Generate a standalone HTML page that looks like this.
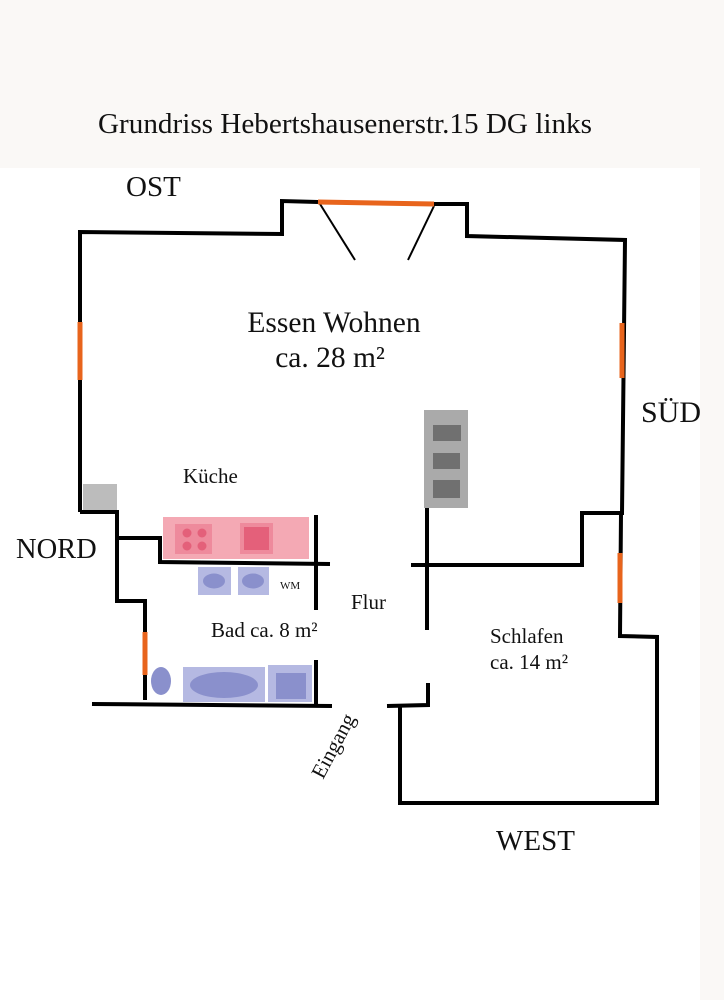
<!DOCTYPE html>
<html><head><meta charset="utf-8"><style>
html,body{margin:0;padding:0;background:#faf8f6;}
svg{display:block}
text{font-family:"Liberation Serif",serif;fill:#111}
</style></head><body>
<svg width="724" height="1000" viewBox="0 0 724 1000" xmlns="http://www.w3.org/2000/svg">
<rect x="0" y="0" width="724" height="1000" fill="#faf8f6"/>
<rect x="0" y="168" width="700" height="832" fill="#ffffff"/>
<text x="98" y="133" font-size="29" textLength="494" lengthAdjust="spacingAndGlyphs">Grundriss Hebertshausenerstr.15 DG links</text>
<text x="126" y="196" font-size="29">OST</text>
<text x="641" y="422" font-size="30">SÜD</text>
<text x="16" y="558" font-size="28.5">NORD</text>
<text x="496" y="850" font-size="29">WEST</text>
<text x="334" y="332" font-size="29.5" text-anchor="middle">Essen Wohnen</text>
<text x="330" y="367" font-size="29.5" text-anchor="middle">ca. 28 m²</text>
<text x="183" y="483" font-size="21">Küche</text>
<text x="351" y="609" font-size="21">Flur</text>
<text x="211" y="637" font-size="21">Bad ca. 8 m²</text>
<text x="280" y="589" font-size="11">WM</text>
<text x="490" y="643" font-size="21">Schlafen</text>
<text x="490" y="669" font-size="21">ca. 14 m²</text>
<text x="0" y="0" font-size="21" transform="translate(323,780) rotate(-62)">Eingang</text>

<!-- fireplace -->
<rect x="424" y="410" width="44" height="98" fill="#aaaaaa"/>
<rect x="433" y="425" width="28" height="16" fill="#707070"/>
<rect x="433" y="453" width="27" height="16" fill="#707070"/>
<rect x="433" y="480" width="27" height="18" fill="#707070"/>
<!-- grey box -->
<rect x="83" y="484" width="34" height="28" fill="#bcbcbc"/>
<!-- kitchen -->
<rect x="163" y="517" width="146" height="42" fill="#f4a9b4"/>
<rect x="175" y="524" width="37" height="30" fill="#ee8a9c"/>
<circle cx="187" cy="533" r="4.5" fill="#e4607a"/><circle cx="202" cy="533" r="4.5" fill="#e4607a"/>
<circle cx="187" cy="546" r="4.5" fill="#e4607a"/><circle cx="202" cy="546" r="4.5" fill="#e4607a"/>
<rect x="240" y="523" width="33" height="31" fill="#ee8a9c"/>
<rect x="244" y="527" width="25" height="23" fill="#e4607a"/>
<!-- bath -->
<rect x="198" y="567" width="33" height="28" fill="#b5b9e2"/>
<ellipse cx="214" cy="581" rx="11" ry="7.5" fill="#8a90cc"/>
<rect x="238" y="567" width="31" height="28" fill="#b5b9e2"/>
<ellipse cx="253" cy="581" rx="11" ry="7.5" fill="#8a90cc"/>
<ellipse cx="161" cy="681" rx="10" ry="14" fill="#8a90cc"/>
<rect x="183" y="667" width="82" height="35" fill="#b5b9e2"/>
<ellipse cx="224" cy="685" rx="34" ry="13" fill="#8a90cc"/>
<rect x="268" y="665" width="44" height="37" fill="#b5b9e2"/>
<rect x="276" y="673" width="30" height="26" fill="#8a90cc"/>

<g fill="none" stroke="#000" stroke-width="4" stroke-linejoin="miter">
<polyline points="80,512 80,232 282,234 282,201 318,202"/>
<polyline points="434,204 467,204 467,236 625,240 622,513 582,513 582,565 411,565"/>
<polyline points="621,513 620,636 657,637 657,803 400,803 400,706"/>
<polyline points="387,706 428,705 428,683"/>
<line x1="427" y1="508" x2="427" y2="630"/>
<polyline points="80,512 117,512 117,601 145,601 145,700"/>
<polyline points="118,538 160,538 160,562 330,564"/>
<line x1="316" y1="515" x2="316" y2="610"/>
<line x1="316" y1="660" x2="316" y2="706"/>
<line x1="92" y1="704" x2="332" y2="706"/>
</g>
<g stroke="#000" stroke-width="2">
<line x1="320" y1="204" x2="355" y2="260"/>
<line x1="434" y1="206" x2="408" y2="260"/>
</g>
<g stroke="#e8641c" stroke-width="5">
<line x1="318" y1="202" x2="434" y2="204"/>
<line x1="80" y1="322" x2="80" y2="380"/>
<line x1="622" y1="323" x2="622" y2="378"/>
<line x1="620" y1="553" x2="620" y2="603"/>
<line x1="145" y1="632" x2="145" y2="675"/>
</g>
</svg>
</body></html>
